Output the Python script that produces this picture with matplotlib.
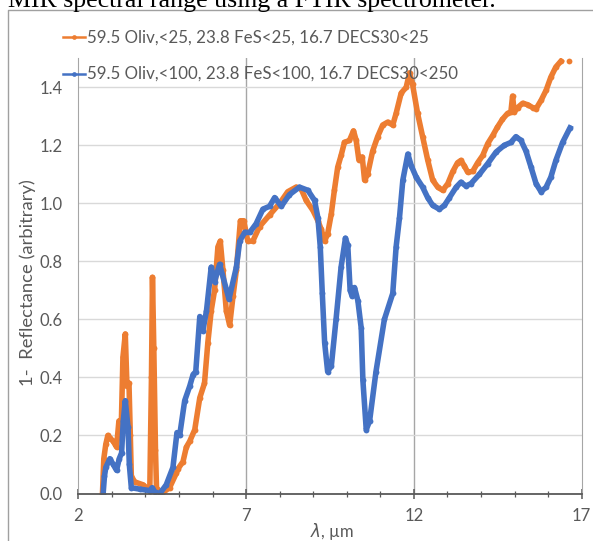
import numpy as np
import matplotlib
matplotlib.use('Agg')
import matplotlib.pyplot as plt
from matplotlib.lines import Line2D

# data
x_fine = [2.72, 2.76, 2.82, 2.88, 2.95, 3.04, 3.14, 3.21, 3.28, 3.33, 3.40, 3.45, 3.51,
          3.55, 3.58, 3.68, 3.93, 4.13, 4.18, 4.21, 4.25, 4.30, 4.33, 4.48, 4.72, 4.92,
          4.97, 5.12, 5.22, 5.32, 5.47, 5.62, 5.76, 5.86, 5.96, 6.06, 6.16, 6.23, 6.31,
          6.41, 6.51, 6.61, 6.71, 6.83, 6.93, 7.05, 7.20, 7.40, 7.70, 8.00, 8.24, 8.49,
          8.64, 8.79, 8.99, 9.14, 9.24, 9.34, 9.43, 9.54, 9.63, 9.73, 9.83, 9.93, 10.08,
          10.20, 10.28, 10.36, 10.46, 10.53, 10.62, 10.77, 10.92, 11.07, 11.22, 11.37,
          11.47, 11.62, 11.77, 11.87, 11.96, 12.11, 12.26, 12.41, 12.56, 12.71, 12.86,
          13.01, 13.16, 13.30, 13.40, 13.50, 13.60, 13.75, 13.90, 14.05, 14.20, 14.35,
          14.49, 14.64, 14.79, 14.89, 14.94, 14.99, 15.09, 15.24, 15.39, 15.54, 15.64,
          15.79, 15.94, 16.08, 16.23, 16.38, 16.50, 16.63]
y_fine = [0.0, 0.12, 0.17, 0.20, 0.19, 0.18, 0.16, 0.25, 0.23, 0.47, 0.55, 0.37, 0.38,
          0.20, 0.06, 0.04, 0.03, 0.01, 0.40, 0.745, 0.50, 0.15, 0.02, 0.0, 0.02, 0.07,
          0.085, 0.11, 0.16, 0.18, 0.22, 0.33, 0.38, 0.52, 0.63, 0.70, 0.85, 0.87, 0.77,
          0.63, 0.58, 0.68, 0.77, 0.94, 0.94, 0.87, 0.87, 0.92, 0.96, 1.00, 1.04, 1.056,
          1.05, 1.01, 0.976, 0.94, 0.91, 0.87, 0.895, 0.965, 1.045, 1.125, 1.165, 1.21, 1.217,
          1.25, 1.217, 1.15, 1.16, 1.08, 1.10, 1.18, 1.23, 1.27, 1.28, 1.27,
          1.31, 1.38, 1.40, 1.45, 1.41, 1.31, 1.23, 1.15, 1.08, 1.056, 1.045,
          1.068, 1.11, 1.14, 1.148, 1.13, 1.108, 1.11, 1.14, 1.165, 1.206, 1.234,
          1.263, 1.29, 1.31, 1.315, 1.37, 1.315, 1.33, 1.345, 1.34, 1.33, 1.326,
          1.355, 1.39, 1.435, 1.47, 1.49, np.nan, 1.49]

x_coarse = [2.74, 2.78, 2.82, 2.94, 3.04, 3.14, 3.22, 3.29, 3.34, 3.40, 3.48, 3.52, 3.58,
            3.83, 4.13, 4.20, 4.28, 4.43, 4.62, 4.82, 4.94, 5.02, 5.17, 5.32, 5.42, 5.50,
            5.62, 5.71, 5.82, 5.96, 6.06, 6.21, 6.49, 6.71, 6.81, 6.96, 7.11, 7.30, 7.50,
            7.70, 7.85, 8.05, 8.29, 8.59, 8.84, 9.04, 9.14, 9.21, 9.27, 9.34, 9.43, 9.54,
            9.68, 9.83, 9.96, 10.03, 10.10, 10.16, 10.23, 10.33, 10.43, 10.48, 10.58, 10.68,
            10.87, 11.12, 11.37, 11.47, 11.57, 11.67, 11.82, 11.92, 12.07, 12.26, 12.41,
            12.56, 12.76, 12.91, 13.06, 13.26, 13.40, 13.55, 13.70, 13.95, 14.20, 14.45,
            14.69, 14.89, 15.04, 15.19, 15.34, 15.49, 15.64, 15.79, 15.94, 16.08, 16.23,
            16.43, 16.65]
y_coarse = [0.0, 0.06, 0.09, 0.12, 0.10, 0.08, 0.12, 0.14, 0.25, 0.32, 0.23, 0.10, 0.02,
            0.015, 0.01, 0.02, 0.005, 0.0, 0.03, 0.09, 0.21, 0.20, 0.32, 0.37, 0.41, 0.42,
            0.61, 0.56, 0.63, 0.78, 0.73, 0.79, 0.67, 0.78, 0.87, 0.90, 0.90, 0.93, 0.98,
            0.99, 1.02, 0.99, 1.03, 1.056, 1.045, 1.01, 0.95, 0.85, 0.69, 0.52, 0.42, 0.44,
            0.60, 0.78, 0.88, 0.855, 0.70, 0.68, 0.71, 0.665, 0.57, 0.39, 0.22, 0.25,
            0.42, 0.60, 0.69, 0.85, 0.95, 1.08, 1.17, 1.13, 1.09, 1.056, 1.02,
            0.993, 0.98, 0.993, 1.02, 1.056, 1.073, 1.06, 1.068, 1.10, 1.137, 1.177,
            1.20, 1.21, 1.23, 1.217, 1.18, 1.125, 1.068, 1.04, 1.056, 1.09, 1.148,
            1.21, 1.26]

labels = ['59.5 Oliv,<25, 23.8 FeS<25, 16.7 DECS30<25',
          '59.5 Oliv,<100, 23.8 FeS<100, 16.7 DECS30<250']
x_major = [2, 7, 12, 17]
y_major = [0.0, 0.2, 0.4, 0.6, 0.8, 1.0, 1.2, 1.4]
colors = ['#ED7D31', '#4472C4']
grey_txt = '#595959'

plt.rcParams['font.family'] = ['Lato', 'DejaVu Sans']

fig = plt.figure(figsize=(5.93, 5.41), dpi=100)
ax = fig.add_axes([78.3 / 593, 1 - 493.5 / 541, (581.7 - 78.3) / 593, (493.5 - 58.3) / 541])

ax.plot(x_fine, y_fine, color=colors[0], lw=4.0, marker='o', ms=4.2, mew=0,
        solid_joinstyle='round', zorder=3)
ax.plot(x_coarse, y_coarse, color=colors[1], lw=4.0, marker='o', ms=4.2, mew=0,
        solid_joinstyle='round', zorder=4)

ax.set_xlim(2, 17)
ax.set_ylim(0, 1.5)
ax.set_xticks(x_major)
ax.set_xticks(np.arange(2, 17.5, 1), minor=True)
ax.set_yticks(y_major)
ax.set_yticklabels(['%.1f' % v for v in y_major])

ax.grid(axis='y', color='#d9d9d9', lw=1.0, zorder=0)
for xv in x_major[1:-1]:
    ax.axvline(xv, color='#a6a6a6', lw=1.0, zorder=1)

ax.spines['top'].set_visible(False)
ax.spines['left'].set_color('#a6a6a6')
ax.spines['right'].set_color('#a6a6a6')
ax.spines['bottom'].set_color(grey_txt)
ax.spines['bottom'].set_linewidth(1.3)
ax.spines['bottom'].set_zorder(5)

ax.tick_params(axis='x', which='major', direction='inout', length=7.5, width=1.1,
               color=grey_txt, labelcolor=grey_txt, labelsize=12, pad=7)
ax.tick_params(axis='x', which='minor', direction='inout', length=5, width=0.9,
               color=grey_txt)
ax.tick_params(axis='y', length=0, labelcolor=grey_txt, labelsize=12, pad=11)

# axis titles
fig.text(28 / 593, 1 - 283 / 541, '1-  Reflectance (arbitrary)', rotation=90,
         ha='center', va='center', color=grey_txt, fontsize=13.3)
fig.text(331.7 / 593, 1 - 531 / 541, r'$\lambda$, µm', ha='center', va='center',
         color=grey_txt, fontsize=12)

# legend entries
for i, (lab, col) in enumerate(zip(labels, colors)):
    yy = 1 - [37.3, 74][i] / 541
    fig.add_artist(Line2D([62.7 / 593, 85 / 593], [yy, yy], color=col, lw=1.8,
                          transform=fig.transFigure))
    fig.add_artist(Line2D([73.8 / 593], [yy], color=col, marker='o', ms=3.4, mew=0,
                          transform=fig.transFigure))
    fig.text(86.7 / 593, yy, lab, ha='left', va='center', color=grey_txt, fontsize=12.2)

# chart frame (cropped) and the clipped caption above it
fig.add_artist(Line2D([8.3 / 593, 8.3 / 593, 1.0], [0.0, 1 - 10 / 541, 1 - 10 / 541],
                      color='#a0a0a0', lw=1.0, transform=fig.transFigure))
fig.text(8 / 593, 1 - 7 / 541, 'MIR spectral range using a FTIR spectrometer.',
         family='Liberation Serif', fontsize=18.6, color='black', ha='left', va='baseline')

fig.savefig('out.png', dpi=100)
